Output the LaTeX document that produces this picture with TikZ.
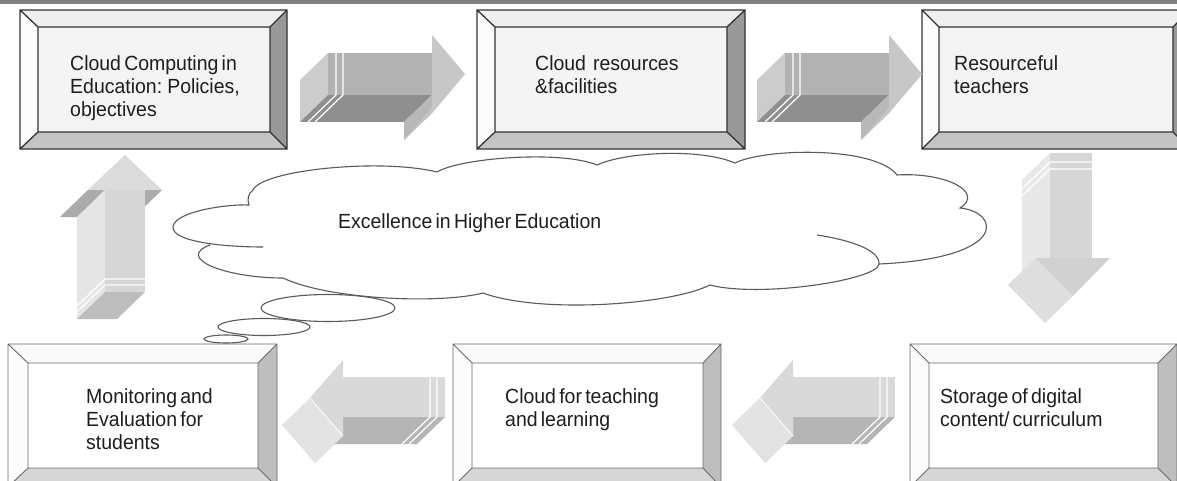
\documentclass[tikz,border=0pt]{standalone}
\usepackage{fontspec}
\setmainfont{Liberation Sans}[FakeStretch=0.95,WordSpace=0.6]
\definecolor{txt}{HTML}{1E1E1E}
\definecolor{cl}{HTML}{5A5A5A}
\definecolor{bar}{HTML}{808080}
\definecolor{Tface}{HTML}{F4F4F4}
\definecolor{Ttop}{HTML}{EFEFEF}
\definecolor{Tleft}{HTML}{FBFBFB}
\definecolor{Tright}{HTML}{999999}
\definecolor{Tbottom}{HTML}{C3C3C3}
\definecolor{Tline}{HTML}{333333}
\definecolor{Bface}{HTML}{FFFFFF}
\definecolor{Btop}{HTML}{FAFAFA}
\definecolor{Bleft}{HTML}{FCFCFC}
\definecolor{Bright}{HTML}{BEBEBE}
\definecolor{Bbottom}{HTML}{D6D6D6}
\definecolor{Bline}{HTML}{6A6A6A}
\newcommand\bevbox[9]{%
  \fill[#9face] (#5,#6) rectangle (#7,#8);
  \fill[#9top] (#1,#2) -- (#3,#2) -- (#7,#6) -- (#5,#6) -- cycle;
  \fill[#9left] (#1,#2) -- (#5,#6) -- (#5,#8) -- (#1,#4) -- cycle;
  \fill[#9right] (#3,#2) -- (#3,#4) -- (#7,#8) -- (#7,#6) -- cycle;
  \fill[#9bottom] (#1,#4) -- (#3,#4) -- (#7,#8) -- (#5,#8) -- cycle;
  \draw[#9line,#9lw] (#1,#2) rectangle (#3,#4) (#5,#6) rectangle (#7,#8)
     (#1,#2) -- (#5,#6) (#3,#2) -- (#7,#6) (#1,#4) -- (#5,#8) (#3,#4) -- (#7,#8);
}
\begin{document}
\begin{tikzpicture}[x=1pt,y=-1pt,
  Tlw/.style={line width=1.3pt},
  Blw/.style={line width=0.9pt},
  lbl/.style={font=\fontsize{20.5}{23}\selectfont, text=txt, inner sep=0pt, anchor=north west, align=left},
  cloudline/.style={draw=cl, line width=1.1pt},
  stripe/.style={draw=white, line width=1.2pt}]
\useasboundingbox (0,0) rectangle (1177,481);
\begin{scope}
\clip (0,0) rectangle (1177,481);
\fill[white] (0,0) rectangle (1177,481);
\fill[bar] (0,0) rectangle (1177,4.5);

% top boxes
\bevbox{20}{10}{287}{149}{38}{27}{270}{132}{T}
\bevbox{477}{10}{745}{149}{495}{27}{727}{132}{T}
\bevbox{922}{10}{1190}{149}{939}{27}{1173}{132}{T}
% bottom boxes
\bevbox{8}{344}{277}{487}{28}{363}{258}{468}{B}
\bevbox{453}{344}{721}{487}{472}{363}{703}{468}{B}
\bevbox{910}{344}{1177}{487}{929}{363}{1158}{468}{B}

% top right-pointing arrows
\foreach \sx in {0,457}{
\begin{scope}[xshift=\sx pt]
  \fill[black!20] (328,53) -- (328,95) -- (300,122) -- (300,80) -- cycle;
  \fill[black!44] (328,95) -- (432,95) -- (404,122) -- (300,122) -- cycle;
  \fill[black!28] (432,95) -- (432,113) -- (404,140) -- (404,122) -- cycle;
  \fill[black!23] (465,74) -- (432,113) -- (404,140) -- (437,101) -- cycle;
  \fill[black!30] (328,53) -- (432,53) -- (432,95) -- (328,95) -- cycle;
  \fill[black!22] (432,35) -- (465,74) -- (432,113) -- cycle;
  \draw[stripe] (336,53) -- (336,95) -- (308,122);
  \draw[stripe] (343,53) -- (343,95) -- (315,122);
\end{scope}}

% bottom left-pointing arrows
\foreach \sx in {0,450}{
\begin{scope}[xshift=\sx pt]
  \fill[black!29] (343,417) -- (445,417) -- (417,444) -- (315,444) -- cycle;
  \fill[black!18] (343,417) -- (343,436) -- (315,463) -- (315,444) -- cycle;
  \fill[black!11] (310,398) -- (343,436) -- (315,463) -- (282,425) -- cycle;
  \fill[black!15] (343,377) -- (445,377) -- (445,417) -- (343,417) -- cycle;
  \fill[black!15] (343,360) -- (310,398) -- (343,436) -- cycle;
  \draw[white, line width=0.8pt] (310,398) -- (343,436);
  \draw[stripe] (430,377) -- (430,417) -- (402,444);
  \draw[stripe] (437,377) -- (437,417) -- (409,444);
\end{scope}}

% right down arrow
\fill[black!9] (1050,153) -- (1050,258) -- (1022,285) -- (1022,180) -- cycle;
\fill[black!12] (1036,258) -- (1050,258) -- (1022,285) -- (1008,285) -- cycle;
\fill[black!13] (1036,258) -- (1073,296) -- (1045,323) -- (1008,285) -- cycle;
\fill[black!16] (1050,153) -- (1092,153) -- (1092,258) -- (1050,258) -- cycle;
\fill[black!18] (1036,258) -- (1110,258) -- (1073,296) -- cycle;
\draw[stripe] (1092,162) -- (1050,162) -- (1022,189);
\draw[stripe] (1092,169) -- (1050,169) -- (1022,196);

% left up arrow
\fill[black!13] (125,155) -- (88,190) -- (60,217) -- (97,182) -- cycle;
\fill[black!33] (88,190) -- (105,190) -- (77,217) -- (60,217) -- cycle;
\fill[black!33] (145,190) -- (162,190) -- (134,217) -- (117,217) -- cycle;
\fill[black!10] (105,190) -- (105,292) -- (77,319) -- (77,217) -- cycle;
\fill[black!26] (105,292) -- (145,292) -- (117,319) -- (77,319) -- cycle;
\fill[black!16] (105,190) -- (145,190) -- (145,292) -- (105,292) -- cycle;
\fill[black!14] (125,155) -- (162,190) -- (88,190) -- cycle;
\draw[stripe] (145,279) -- (105,279) -- (77,306);
\draw[stripe] (145,285) -- (105,285) -- (77,312);

% cloud
\draw[cloudline] (263,247) .. controls (225,247) and (172,242) .. (173,227)
 .. controls (174,212) and (225,204) .. (249,205)
 .. controls (247,199) and (248,194) .. (253,190)
 .. controls (262,170) and (380,158) .. (437,172)
 .. controls (460,158) and (560,150) .. (597,165)
 .. controls (625,152) and (700,148) .. (735,163)
 .. controls (765,148) and (875,146) .. (897,175)
 .. controls (945,172) and (985,192) .. (960,208)
 .. controls (1000,212) and (1010,258) .. (879,264)
 .. controls (878,280) and (760,298) .. (710,285)
 .. controls (670,305) and (540,314) .. (483,293)
 .. controls (440,304) and (330,300) .. (283,278)
 .. controls (225,278) and (175,258) .. (210,245);
\draw[cloudline] (817,235) .. controls (850,240) and (880,250) .. (879,264);
\draw[cloudline] (328,308) ellipse [x radius=67pt, y radius=13.5pt];
\draw[cloudline] (264,327) ellipse [x radius=46pt, y radius=8.5pt];
\draw[cloudline] (226,339) ellipse [x radius=22pt, y radius=4pt];
\end{scope}

% texts
\node[lbl] (t1) at (70,55) {Cloud Computing in\\Education: Policies,\\objectives};
\node[lbl] (t2) at (535,55) {Cloud\hspace{7pt}resources\\\&facilities};
\node[lbl] (t3) at (954,55) {Resourceful\\teachers};
\node[lbl] (t4) at (86,388) {Monitoring and\\Evaluation for\\students};
\node[lbl] (t5) at (505,388) {Cloud for teaching\\and learning};
\node[lbl] (t6) at (940,388) {Storage of digital\\content/ curriculum};
\node[lbl] (tc) at (338,213) {Excellence in Higher Education};
\end{tikzpicture}
\end{document}
